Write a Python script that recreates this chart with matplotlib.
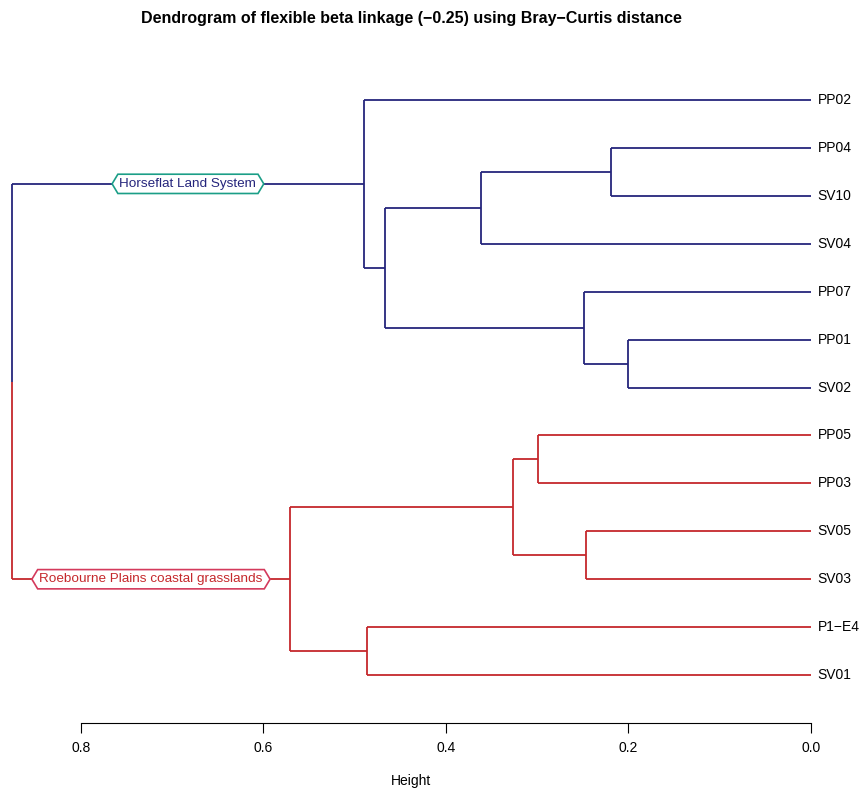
import numpy as np
import matplotlib
matplotlib.use('Agg')
import matplotlib.pyplot as plt
from matplotlib.path import Path

plt.rcParams['font.family'] = ['Liberation Sans', 'DejaVu Sans']

# Leaves, top to bottom
leaves = ['PP02', 'PP04', 'SV10', 'SV04', 'PP07', 'PP01', 'SV02',
          'PP05', 'PP03', 'SV05', 'SV03', 'P1\u2212E4', 'SV01']

# merges: (left child, right child, height); 'mN' -> earlier merge
merges = [
    ('PP04', 'SV10', 0.219),
    ('m0', 'SV04', 0.362),
    ('PP01', 'SV02', 0.2005),
    ('PP07', 'm2', 0.249),
    ('m1', 'm3', 0.467),
    ('PP02', 'm4', 0.490),
    ('PP05', 'PP03', 0.299),
    ('SV05', 'SV03', 0.2466),
    ('m6', 'm7', 0.3266),
    ('P1\u2212E4', 'SV01', 0.4866),
    ('m8', 'm9', 0.571),
    ('m5', 'm10', 0.8756),
]

group_names = ['Horseflat Land System', 'Roebourne Plains coastal grasslands']
group_top = ['m5', 'm10']

xticks = [0.8, 0.6, 0.4, 0.2, 0.0]

BLUE = '#25257c'
RED = '#c5282c'
TEAL = '#1b9e87'
PINK = '#d43a5c'
line_cols = [BLUE, RED]
edge_cols = [TEAL, PINK]
lw1 = 1.3

# =======================================================================================
pos = {}
hgt = {}
for i, lab in enumerate(leaves):
    pos[lab] = i + 1
    hgt[lab] = 0.0
for k, (a, b, h) in enumerate(merges):
    pos['m%d' % k] = (pos[a] + pos[b]) / 2
    hgt['m%d' % k] = h

# color of each node: walk down from group tops
color = {}
def paint(node, c):
    color[node] = c
    if node.startswith('m') and node[1:].isdigit():
        a, b, h = merges[int(node[1:])]
        paint(a, c)
        paint(b, c)
for g, c in zip(group_top, line_cols):
    paint(g, c)


def hexbox(x0, y0, width, height, mutation_size):
    padx = 0.12 * mutation_size
    pady = 0.27 * mutation_size
    x0, y0 = x0 - padx, y0 - pady
    w, hh = width + 2 * padx, height + 2 * pady
    tip = hh * 0.3
    verts = [(x0, y0), (x0 + w, y0), (x0 + w + tip, y0 + hh / 2),
             (x0 + w, y0 + hh), (x0, y0 + hh), (x0 - tip, y0 + hh / 2), (x0, y0)]
    return Path(verts, closed=True)


fig = plt.figure(figsize=(8.6, 7.9), dpi=100)
ax = fig.add_axes([12 / 860, 1 - 723 / 790, (811 - 12) / 860, 643 / 790])
root_h = merges[-1][2]
ax.set_xlim(root_h, 0)
ax.set_ylim(14.0, 0.583)

root = 'm%d' % (len(merges) - 1)
for k, (a, b, h) in enumerate(merges):
    node = 'm%d' % k
    for ch in (a, b):
        c = color.get(ch, 'black')
        ax.plot([h, hgt[ch]], [pos[ch], pos[ch]], color=c, lw=lw1,
                solid_capstyle='butt', clip_on=False)
        if node == root:
            ax.plot([h, h], [pos[ch], pos[node]], color=c, lw=lw1,
                    solid_capstyle='butt', clip_on=False)
    if node != root:
        ax.plot([h, h], [pos[a], pos[b]], color=color[node], lw=lw1,
                solid_capstyle='butt', clip_on=False)

for lab in leaves:
    ax.text(-0.007, pos[lab], lab, ha='left', va='center', fontsize=10, clip_on=False)

for name, g, c, ec in zip(group_names, group_top, line_cols, edge_cols):
    xm = (root_h + hgt[g]) / 2
    ax.text(xm, pos[g], name, ha='center', va='center', fontsize=9.7, color=c,
            bbox=dict(boxstyle=hexbox, fc='white', ec=ec, lw=1.2))

for s in ['top', 'right', 'left']:
    ax.spines[s].set_visible(False)
ax.spines['bottom'].set_bounds(0, 0.8)
ax.spines['bottom'].set_linewidth(0.8)
ax.set_yticks([])
ax.set_xticks(xticks)
ax.set_xticklabels(['%.1f' % v for v in xticks], fontsize=10)
ax.tick_params(axis='x', length=7, width=0.8, pad=6)
fig.text(411 / 860, 1 - 781 / 790, 'Height', ha='center', va='center', fontsize=10)
fig.text(411 / 860, 1 - 18 / 790,
         'Dendrogram of flexible beta linkage (\u22120.25) using Bray\u2212Curtis distance',
         ha='center', va='center', fontsize=11.5, fontweight='bold')

fig.savefig('out.png', dpi=100)
